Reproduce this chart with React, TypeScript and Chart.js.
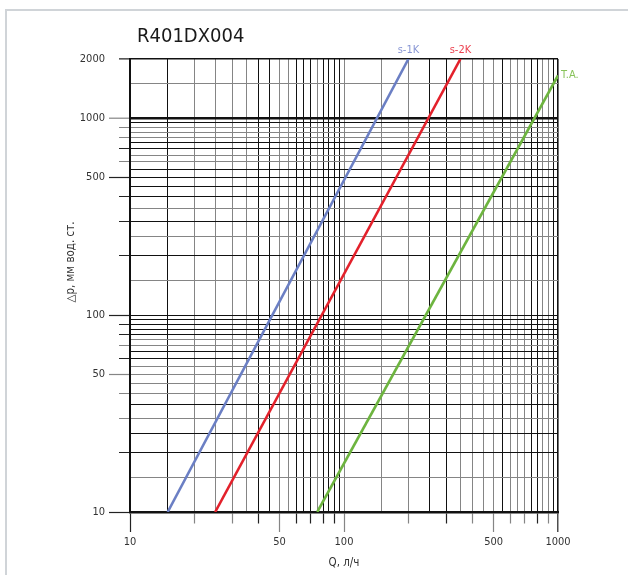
import React, { useEffect, useRef } from 'react';
import { Chart, registerables } from 'chart.js';

Chart.register(...registerables);

// ---------- data ----------
const TITLE = 'R401DX004';
const X_TITLE = 'Q, л/ч';
const Y_TITLE = '△p, мм вод. ст.';

const SERIES_NAMES = ['s-1K', 's-2K', 'T.A.'];
const S1K_Q = [15, 200];
const S1K_DP = [10, 2000];
const S2K_Q = [25, 350];
const S2K_DP = [10, 2000];
const TA_Q = [75, 1000];
const TA_DP = [10, 1650];

const X_MIN = 10;
const X_MAX = 1000;
const Y_MIN = 10;
const Y_MAX = 2000;

const X_GRID = [10, 15, 20, 25, 30, 35, 40, 45, 50, 55, 60, 65, 70, 75, 80, 85, 90, 95,
  100, 150, 200, 250, 300, 350, 400, 450, 500, 550, 600, 650, 700, 750, 800, 850, 900, 950, 1000];
const Y_GRID = [10, 15, 20, 25, 30, 35, 40, 45, 50, 55, 60, 65, 70, 75, 80, 85, 90, 95,
  100, 150, 200, 250, 300, 350, 400, 450, 500, 550, 600, 650, 700, 750, 800, 850, 900, 950, 1000, 1500, 2000];

const X_LABELS = [10, 50, 100, 500, 1000];
const Y_LABELS = [10, 50, 100, 500, 1000, 2000];

const X_LONG_TICKS = [10, 50, 100, 500, 1000];
const X_SHORT_TICKS = [20, 30, 40, 60, 70, 80, 90, 200, 300, 400, 600, 700, 800, 900];
const Y_LONG_TICKS = [10, 50, 100, 500, 1000];
const Y_SHORT_TICKS = [20, 30, 40, 60, 70, 80, 90, 200, 300, 400, 600, 700, 800, 900, 2000];

// ---------- styles ----------
const GRAY_X = [20, 25, 30, 35, 50, 55, 75, 100, 150, 200, 350, 400, 450, 500, 600, 650, 700, 850, 900];
const GRAY_Y = [15, 30, 40, 45, 50, 55, 70, 75, 150, 250, 350, 600, 650, 800, 850, 900, 1500];
const GRAY_Y_TICKS = [30, 40, 50, 70, 600, 800, 900, 1000];
const BLACK = '#111111';
const GRAY = '#858585';
const LINE_COLORS = ['#6b7fc4', '#e3212b', '#6db43f'];
const LABEL_COLORS = ['#8896d4', '#ec4250', '#88c35a'];
const FONT = '"DejaVu Sans Condensed", "Liberation Sans", sans-serif';
const TEXT = '#333333';

function toPoints(xs: number[], ys: number[]) {
  return xs.map((x, i) => ({ x, y: ys[i] }));
}

const textPlugin = {
  id: 'texts',
  afterDraw(chart: any) {
    const { ctx, chartArea } = chart;
    ctx.save();
    // title
    ctx.fillStyle = '#1a1a1a';
    ctx.font = `20px ${FONT}`;
    ctx.textAlign = 'left';
    ctx.textBaseline = 'alphabetic';
    ctx.fillText(TITLE, chartArea.left + 7, 42);
    // y title
    ctx.save();
    ctx.translate(71, 262);
    ctx.rotate(-Math.PI / 2);
    ctx.font = `11.5px ${FONT}`;
    ctx.fillStyle = TEXT;
    ctx.textAlign = 'center';
    ctx.textBaseline = 'middle';
    ctx.fillText(Y_TITLE, 0, 0);
    ctx.restore();
    // series labels at line ends
    ctx.font = `11px ${FONT}`;
    chart.data.datasets.forEach((ds: any, i: number) => {
      const meta = chart.getDatasetMeta(i);
      const last = meta.data[meta.data.length - 1];
      if (!last) return;
      ctx.fillStyle = LABEL_COLORS[i];
      if (i < 2) {
        ctx.textAlign = 'center';
        ctx.textBaseline = 'bottom';
        ctx.fillText(ds.label, last.x, last.y - 3);
      } else {
        ctx.textAlign = 'left';
        ctx.textBaseline = 'middle';
        ctx.fillText(ds.label, last.x + 3, last.y);
      }
    });
    ctx.restore();
  },
};

export default function App() {
  const ref = useRef<HTMLCanvasElement | null>(null);

  useEffect(() => {
    if (!ref.current) return;
    const xv = (c: any) => (c && c.tick ? c.tick.value : NaN);
    const chart = new Chart(ref.current, {
      type: 'line',
      data: {
        datasets: [
          { label: SERIES_NAMES[0], data: toPoints(S1K_Q, S1K_DP), borderColor: LINE_COLORS[0] },
          { label: SERIES_NAMES[1], data: toPoints(S2K_Q, S2K_DP), borderColor: LINE_COLORS[1] },
          { label: SERIES_NAMES[2], data: toPoints(TA_Q, TA_DP), borderColor: LINE_COLORS[2] },
        ],
      },
      options: {
        responsive: false,
        animation: false,
        events: [],
        layout: { padding: { left: 78, right: 70, top: 59, bottom: 0 } },
        elements: {
          point: { radius: 0 },
          line: { borderWidth: 2.6, tension: 0 },
        },
        plugins: {
          legend: { display: false },
          tooltip: { enabled: false },
          title: { display: false },
        },
        scales: {
          x: {
            type: 'logarithmic',
            min: X_MIN,
            max: X_MAX,
            afterBuildTicks: (s: any) => {
              s.ticks = X_GRID.map((v) => ({ value: v }));
            },
            afterFit: (s: any) => {
              s.height = 63;
            },
            border: { color: BLACK, width: 2.5 },
            grid: {
              color: (c: any) => (GRAY_X.includes(xv(c)) ? GRAY : BLACK),
              lineWidth: (c: any) => (xv(c) === 1000 ? 1.6 : 1),
              tickLength: 20,
              tickWidth: 1.2,
              tickColor: (c: any) => {
                const v = xv(c);
                if (X_LONG_TICKS.includes(v) || X_SHORT_TICKS.includes(v)) return GRAY_X.includes(v) ? GRAY : '#222';
                return 'rgba(0,0,0,0)';
              },
              tickBorderDash: (c: any) => (X_SHORT_TICKS.includes(xv(c)) ? [10, 100] : []),
            },
            ticks: {
              autoSkip: false,
              maxRotation: 0,
              padding: 4,
              color: TEXT,
              font: { family: FONT, size: 11 },
              callback: (v: any) => (X_LABELS.includes(Number(v)) ? String(v) : ''),
            },
            title: {
              display: true,
              text: X_TITLE,
              color: TEXT,
              font: { family: FONT, size: 11.5 },
              padding: { top: 0, bottom: 5 },
            },
          },
          y: {
            type: 'logarithmic',
            min: Y_MIN,
            max: Y_MAX,
            afterBuildTicks: (s: any) => {
              s.ticks = Y_GRID.map((v) => ({ value: v }));
            },
            afterFit: (s: any) => {
              s.width = 52;
            },
            border: { color: BLACK, width: 2 },
            grid: {
              color: (c: any) => (GRAY_Y.includes(xv(c)) ? GRAY : BLACK),
              lineWidth: (c: any) => {
                const v = xv(c);
                if (v === 1000) return 2.4;
                if (v === 2000) return 1.6;
                return 1;
              },
              tickLength: 21,
              tickWidth: 1.2,
              tickColor: (c: any) => {
                const v = xv(c);
                if (Y_LONG_TICKS.includes(v) || Y_SHORT_TICKS.includes(v)) return GRAY_Y_TICKS.includes(v) ? GRAY : '#222';
                return 'rgba(0,0,0,0)';
              },
              tickBorderDash: (c: any) => (Y_SHORT_TICKS.includes(xv(c)) ? [0, 10, 10, 100] : []),
            },
            ticks: {
              autoSkip: false,
              padding: 4,
              color: TEXT,
              font: { family: FONT, size: 11 },
              callback: (v: any) => (Y_LABELS.includes(Number(v)) ? String(v) : ''),
            },
          },
        },
      } as any,
      plugins: [textPlugin],
    });
    return () => chart.destroy();
  }, []);

  return (
    <div style={{ position: 'fixed', left: 0, top: 0, width: 628, height: 575, overflow: 'hidden', background: '#fff' }}>
      <div
        style={{
          position: 'absolute',
          left: 5,
          top: 9,
          width: 700,
          height: 700,
          borderLeft: '2px solid #d0d4d8',
          borderTop: '2px solid #d0d4d8',
        }}
      />
      <canvas ref={ref} width={628} height={575} style={{ position: 'absolute', left: 0, top: 0, width: 628, height: 575 }} />
    </div>
  );
}
